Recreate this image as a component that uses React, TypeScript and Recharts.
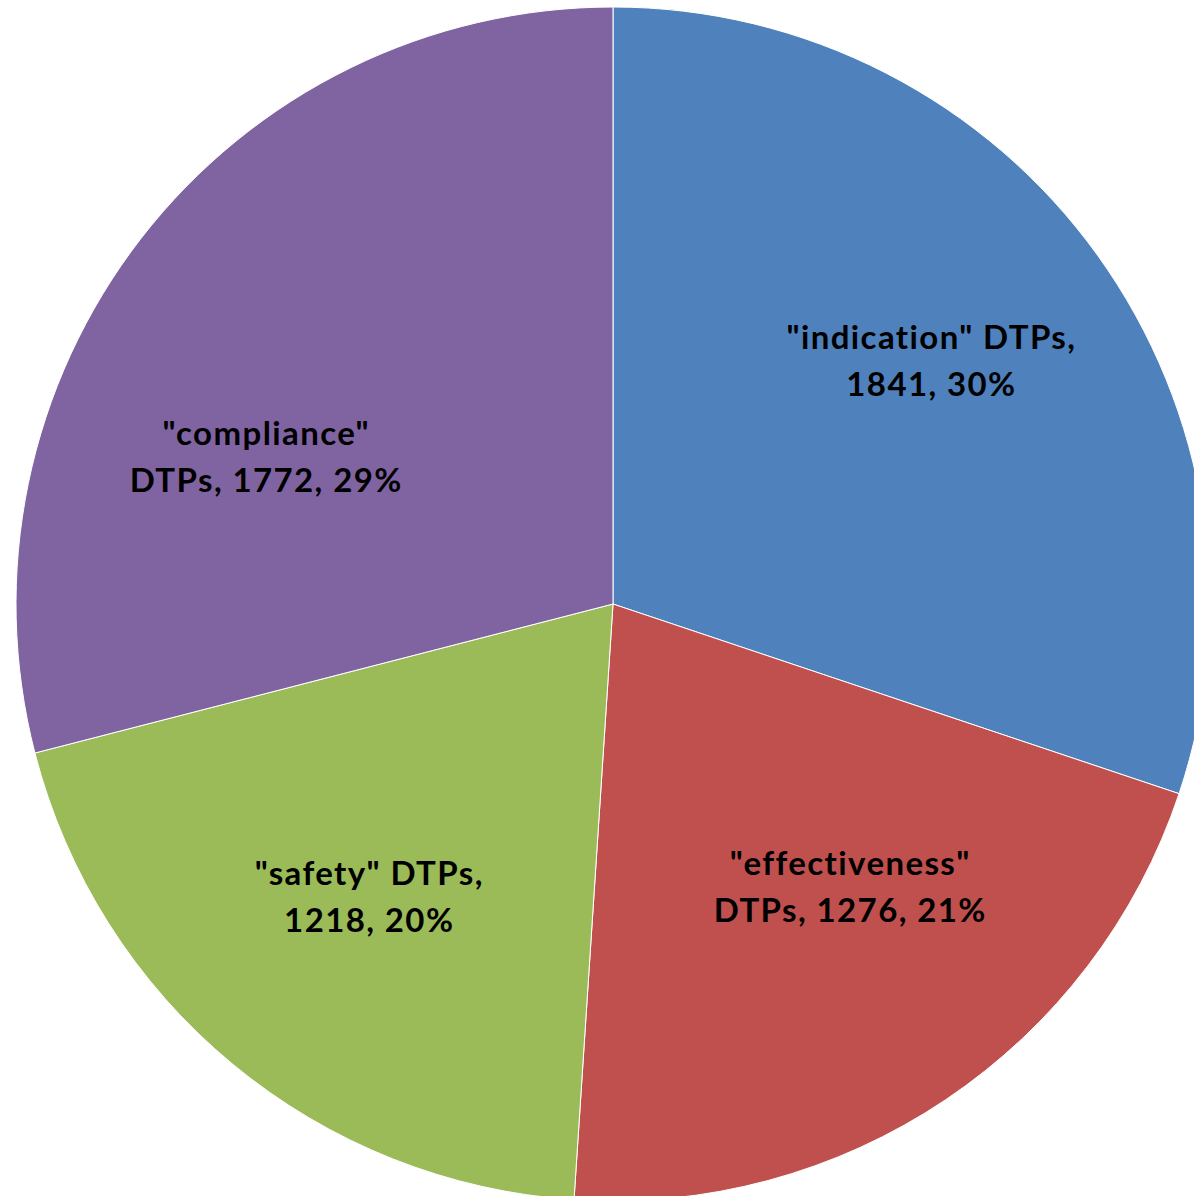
import { PieChart, Pie, Cell } from "recharts";

const categories = ['"indication" DTPs', '"effectiveness" DTPs', '"safety" DTPs', '"compliance" DTPs'];
const counts = [1841, 1276, 1218, 1772];
const percents = ["30%", "21%", "20%", "29%"];
const colors = ["#4F81BD", "#C0504D", "#9BBB59", "#8064A2"];

// how Excel wrapped each label
const labelLines = [
  ['"indication" DTPs,', "1841, 30%"],
  ['"effectiveness"', "DTPs, 1276, 21%"],
  ['"safety" DTPs,', "1218, 20%"],
  ['"compliance"', "DTPs, 1772, 29%"],
];
// best-fit nudges (radius factor, angle shift in degrees)
const labelNudge = [
  { r: 0.67, a: 1.5 },
  { r: 0.62, a: 6 },
  { r: 0.64, a: 0 },
  { r: 0.63, a: 15 },
];

const data = categories.map((name, i) => ({ name, value: counts[i], pct: percents[i] }));

const RAD = Math.PI / 180;

function renderLabel(props: any) {
  const { cx, cy, midAngle, outerRadius, index } = props;
  const n = labelNudge[index];
  const r = outerRadius * n.r;
  const ang = (midAngle + n.a) * RAD;
  const x = cx + r * Math.cos(ang);
  const y = cy - r * Math.sin(ang);
  const lines = labelLines[index];
  return (
    <text
      x={x}
      y={y}
      textAnchor="middle"
      fill="#000"
      fontFamily="Lato, 'Open Sans', sans-serif"
      fontWeight="bold"
      fontSize={33}
      letterSpacing={1.4}
      style={{ fontVariantLigatures: "none" }}
    >
      <tspan x={x} dy={-13}>{lines[0]}</tspan>
      <tspan x={x} dy={47}>{lines[1]}</tspan>
    </text>
  );
}

export default function App() {
  return (
    <div style={{ position: "absolute", left: 0, top: 0, width: 1194, height: 1196, background: "#fff" }}>
      <PieChart width={1194} height={1196} margin={{ top: 0, right: 0, bottom: 0, left: 0 }}>
        <Pie
          data={data}
          dataKey="value"
          nameKey="name"
          cx={613}
          cy={604}
          outerRadius={597}
          startAngle={90}
          endAngle={-270}
          stroke="#ffffff"
          strokeWidth={1}
          label={renderLabel}
          labelLine={false}
          isAnimationActive={false}
        >
          {data.map((d, i) => (
            <Cell key={d.name} fill={colors[i]} />
          ))}
        </Pie>
      </PieChart>
    </div>
  );
}
